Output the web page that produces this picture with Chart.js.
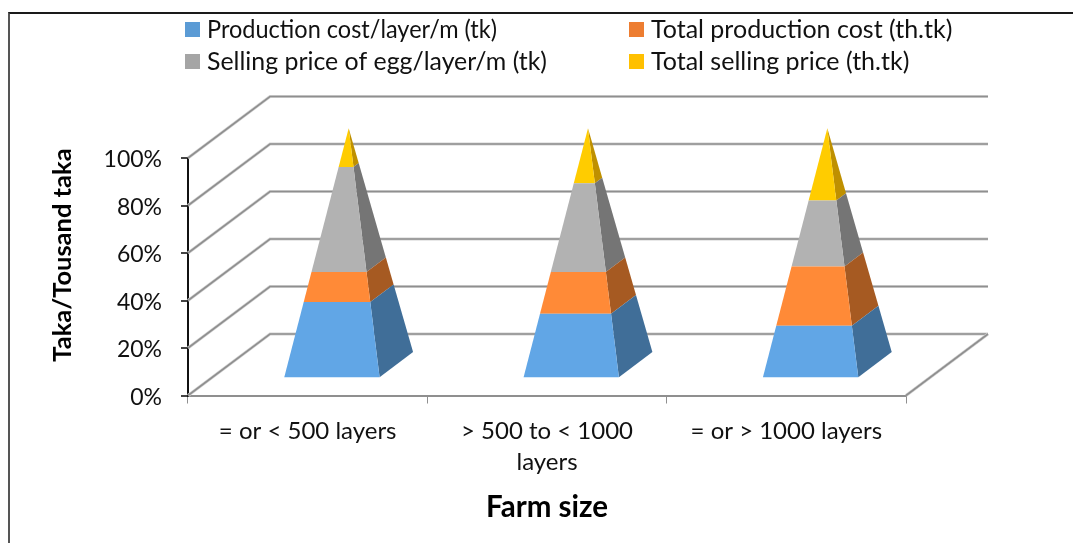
<!DOCTYPE html>
<html>
<head>
<meta charset="utf-8">
<title>Farm size</title>
<script src="https://cdn.jsdelivr.net/npm/chart.js@4"></script>
<style>
  html, body { margin: 0; background: #fff; overflow: hidden; }
  #frame { position: absolute; left: 8px; top: 12px; right: 0; bottom: 0; border-top: 2px solid #1a1a1a; border-left: 2px solid #555; }
  #chart { position: absolute; left: 0; top: 0; }
</style>
</head>
<body>
<div id="frame"></div>
<canvas id="chart" width="1073" height="543"></canvas>
<script>
"use strict";

const farmSizes = ["= or < 500 layers", ["> 500 to < 1000", "layers"], "= or > 1000 layers"];
const productionCost = [30.5, 25.8, 21.0];
const totalProductionCost = [12.0, 16.7, 23.7];
const sellingPrice = [42.0, 35.5, 26.4];
const totalSellingPrice = [15.5, 22.0, 28.9];

const seriesNames = [
  "Production cost/layer/m (tk)",
  "Total production cost (th.tk)",
  "Selling price of egg/layer/m (tk)",
  "Total selling price (th.tk)"
];
const legendColors = ["#5B9BD5", "#ED7D31", "#A5A5A5", "#FFC000"];
const frontColors = ["#61A6E6", "#FF8A37", "#B2B2B2", "#FFCC00"];
const sideColors = ["#406E98", "#A65A22", "#757575", "#BF9000"];

const FONT = "Lato, Carlito, Calibri, sans-serif";
const TEXT = "#111";
const GRID = "#8f8f8f";
// how far the back wall sits from the front plane
const WALL_DX = 82;
const WALL_DY = 61.5;

function corner(bar, area, t, side, depth) {
  const cx = bar.x + 0.5 * WALL_DX;
  const cy = area.bottom - 0.485 * WALL_DY - t * (area.bottom - area.top);
  const k = 1 - t;
  return {
    x: cx + k * (side * bar.width / 2 + depth * 0.205 * WALL_DX),
    y: cy - k * depth * 0.205 * WALL_DY
  };
}

function poly(ctx, pts, color) {
  ctx.beginPath();
  pts.forEach((p, i) => (i ? ctx.lineTo(p.x, p.y) : ctx.moveTo(p.x, p.y)));
  ctx.closePath();
  ctx.fillStyle = color;
  ctx.fill();
}

const wallPlugin = {
  id: "wall",
  beforeDatasetsDraw(chart) {
    const { ctx, chartArea: area, scales: { y } } = chart;
    const strokeBoth = () => {
      ctx.strokeStyle = "#d2d2d2";
      ctx.lineWidth = 3;
      ctx.stroke();
      ctx.strokeStyle = GRID;
      ctx.lineWidth = 1.6;
      ctx.stroke();
    };
    ctx.save();
    y.ticks.forEach(tick => {
      const py = y.getPixelForValue(tick.value);
      ctx.beginPath();
      ctx.moveTo(area.left, py);
      ctx.lineTo(area.left + WALL_DX, py - WALL_DY);
      ctx.lineTo(area.right + WALL_DX, py - WALL_DY);
      strokeBoth();
    });
    ctx.beginPath();
    ctx.moveTo(area.right, area.bottom);
    ctx.lineTo(area.right + WALL_DX, area.bottom - WALL_DY);
    strokeBoth();
    ctx.restore();
  }
};

// replaces the flat stacked bars with slices of a pyramid
const pyramidPlugin = {
  id: "pyramid",
  beforeDatasetDraw(chart, args) {
    const { ctx, chartArea: area } = chart;
    const h = area.bottom - area.top;
    args.meta.data.forEach(bar => {
      const t0 = (area.bottom - bar.base) / h;
      const t1 = (area.bottom - bar.y) / h;
      poly(ctx, [
        corner(bar, area, t0, 1, -1),
        corner(bar, area, t0, 1, 1),
        corner(bar, area, t1, 1, 1),
        corner(bar, area, t1, 1, -1)
      ], sideColors[args.index]);
      poly(ctx, [
        corner(bar, area, t0, -1, -1),
        corner(bar, area, t0, 1, -1),
        corner(bar, area, t1, 1, -1),
        corner(bar, area, t1, -1, -1)
      ], frontColors[args.index]);
    });
    return false;
  }
};

// two aligned legend columns, which the built-in legend can't do
const legendPlugin = {
  id: "twoColumnLegend",
  afterDraw(chart) {
    const { ctx } = chart;
    const columns = [185, 629];
    const rows = [22, 54];
    const maxWidths = [290, 304, 340, 262];
    ctx.save();
    ctx.font = `25px ${FONT}`;
    ctx.textBaseline = "middle";
    chart.data.datasets.forEach((ds, i) => {
      const x = columns[i % 2];
      const y = rows[Math.floor(i / 2)];
      ctx.fillStyle = ds.backgroundColor;
      ctx.fillRect(x, y, 15, 15);
      ctx.fillStyle = TEXT;
      ctx.fillText(ds.label, x + 22, y + 8, maxWidths[i]);
    });
    ctx.restore();
  }
};

new Chart(document.getElementById("chart"), {
  type: "bar",
  data: {
    labels: farmSizes,
    datasets: [
      { label: seriesNames[0], data: productionCost, backgroundColor: legendColors[0] },
      { label: seriesNames[1], data: totalProductionCost, backgroundColor: legendColors[1] },
      { label: seriesNames[2], data: sellingPrice, backgroundColor: legendColors[2] },
      { label: seriesNames[3], data: totalSellingPrice, backgroundColor: legendColors[3] }
    ]
  },
  plugins: [wallPlugin, pyramidPlugin, legendPlugin],
  options: {
    responsive: false,
    animation: false,
    categoryPercentage: 1,
    barPercentage: 0.4,
    layout: { padding: { top: 158, right: 167, bottom: 14, left: 0 } },
    plugins: { legend: { display: false }, tooltip: { enabled: false } },
    scales: {
      x: {
        stacked: true,
        afterFit: scale => { scale.height = 133.5; },
        border: { color: GRID, width: 2 },
        grid: { drawOnChartArea: false, color: GRID, lineWidth: 1, tickLength: 8 },
        ticks: { color: TEXT, font: { family: FONT, size: 24, lineHeight: 1.3 }, padding: 12, maxRotation: 0, autoSkip: false },
        title: { display: true, text: "Farm size", color: "#000", font: { family: FONT, size: 29.5, weight: "bold" } }
      },
      y: {
        stacked: true,
        min: 0,
        max: 100,
        afterFit: scale => { scale.width = 188; },
        border: { color: "#111", width: 2 },
        grid: { drawOnChartArea: false, color: "#444", lineWidth: 2, tickLength: 7 },
        ticks: { stepSize: 20, color: TEXT, padding: 19, labelOffset: 2, font: { family: FONT, size: 23 }, callback: v => v + "%" },
        // leading spaces push the centred title up the axis, it sits above the scale's middle
        title: { display: true, text: " ".repeat(7) + "Taka/Tousand taka", color: "#000", padding: { top: 47, bottom: 0 }, font: { family: FONT, size: 25.5, weight: "bold" } }
      }
    }
  }
});
</script>
</body>
</html>
